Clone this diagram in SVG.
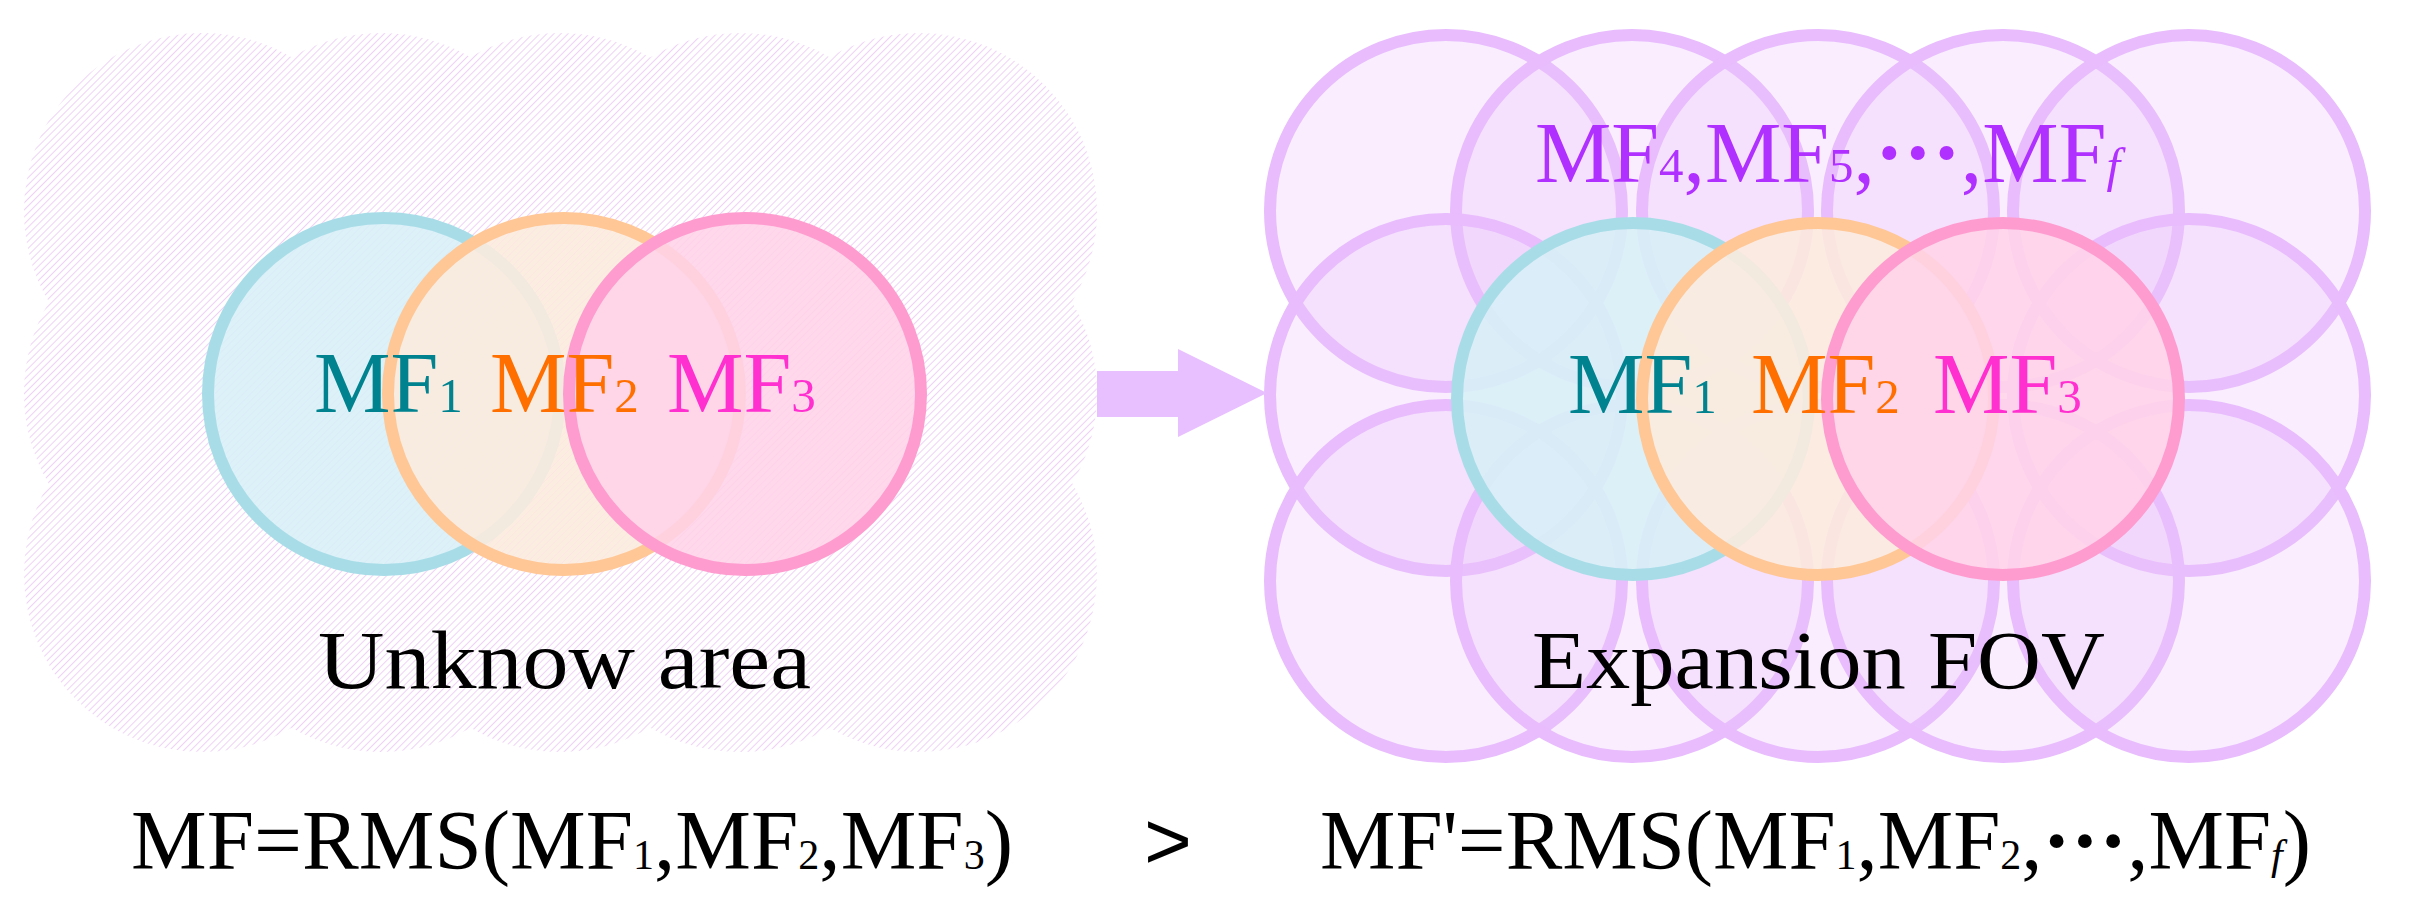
<svg xmlns="http://www.w3.org/2000/svg" width="2409" height="917" viewBox="0 0 2409 917">
  <defs>
    <pattern id="hatch" patternUnits="userSpaceOnUse" width="5" height="5" patternTransform="rotate(45)">
      <rect x="0" y="0" width="1" height="5" fill="#efd2f6"/>
    </pattern>
    <clipPath id="cloud">
      <circle cx="202" cy="211" r="178"/>
      <circle cx="381" cy="211" r="178"/>
      <circle cx="560" cy="211" r="178"/>
      <circle cx="740" cy="211" r="178"/>
      <circle cx="919" cy="211" r="178"/>
      <circle cx="202" cy="393" r="178"/>
      <circle cx="381" cy="393" r="178"/>
      <circle cx="560" cy="393" r="178"/>
      <circle cx="740" cy="393" r="178"/>
      <circle cx="919" cy="393" r="178"/>
      <circle cx="202" cy="574" r="178"/>
      <circle cx="381" cy="574" r="178"/>
      <circle cx="560" cy="574" r="178"/>
      <circle cx="740" cy="574" r="178"/>
      <circle cx="919" cy="574" r="178"/>
    </clipPath>
    <style>
      .txt { font-family: "Liberation Serif", "Times New Roman", serif; }
      .fov { fill: #eac4fb; fill-opacity: 0.3; stroke: #e8bcfd; stroke-width: 12; }
      .mf1 { fill: #d8eff7; fill-opacity: 0.9; stroke: #a8dde8; stroke-width: 12; }
      .mf2 { fill: #fcebdd; fill-opacity: 0.88; stroke: #ffc796; stroke-width: 12; }
      .mf3 { fill: #ffd3e8; fill-opacity: 0.88; stroke: #ff9ccf; stroke-width: 12; }
      .lab { font-size: 86px; }
      .sub { font-size: 49px; }
      .c1 { fill: #00838f; }
      .c2 { fill: #ff6f00; }
      .c3 { fill: #ff30cf; }
      .c4 { fill: #b030ff; }
    </style>
  </defs>
  <rect width="2409" height="917" fill="#ffffff"/>

  <g id="unknown-area">
    <rect x="0" y="0" width="1120" height="780" fill="url(#hatch)" clip-path="url(#cloud)"/>
  </g>

  <g id="left-mf1"><circle class="mf1" cx="384" cy="394" r="176"/></g>
  <g id="left-mf2"><circle class="mf2" cx="564" cy="394" r="176"/></g>
  <g id="left-mf3"><circle class="mf3" cx="745" cy="394" r="176"/></g>

  <g id="left-labels" class="txt lab">
    <text x="314" y="412" class="c1">MF<tspan class="sub">1</tspan></text>
    <text x="490" y="412" class="c2">MF<tspan class="sub">2</tspan></text>
    <text x="667" y="412" class="c3">MF<tspan class="sub">3</tspan></text>
    <text x="318" y="688" fill="#000" font-size="83" textLength="493" lengthAdjust="spacingAndGlyphs">Unknow area</text>
  </g>

  <g id="expansion-fov">
    <circle class="fov" cx="1446" cy="211" r="176"/>
    <circle class="fov" cx="1632" cy="211" r="176"/>
    <circle class="fov" cx="1818" cy="211" r="176"/>
    <circle class="fov" cx="2003" cy="211" r="176"/>
    <circle class="fov" cx="2189" cy="211" r="176"/>
    <circle class="fov" cx="1446" cy="395" r="176"/>
    <circle class="fov" cx="2189" cy="395" r="176"/>
    <circle class="fov" cx="1446" cy="581" r="176"/>
    <circle class="fov" cx="1632" cy="581" r="176"/>
    <circle class="fov" cx="1818" cy="581" r="176"/>
    <circle class="fov" cx="2003" cy="581" r="176"/>
    <circle class="fov" cx="2189" cy="581" r="176"/>
  </g>

  <g id="right-mf1"><circle class="mf1" cx="1633" cy="399" r="176"/></g>
  <g id="right-mf2"><circle class="mf2" cx="1818" cy="399" r="176"/></g>
  <g id="right-mf3"><circle class="mf3" cx="2003" cy="399" r="176"/></g>

  <g id="right-labels" class="txt lab">
    <text x="1535" y="182" class="c4" textLength="585" lengthAdjust="spacingAndGlyphs">MF<tspan class="sub">4</tspan>,MF<tspan class="sub">5</tspan>,<tspan font-weight="bold">···</tspan>,MF<tspan class="sub" font-style="italic">f</tspan></text>
    <text x="1568" y="413" class="c1">MF<tspan class="sub">1</tspan></text>
    <text x="1751" y="413" class="c2">MF<tspan class="sub">2</tspan></text>
    <text x="1933" y="413" class="c3">MF<tspan class="sub">3</tspan></text>
    <text x="1532" y="688" fill="#000" font-size="83" textLength="573" lengthAdjust="spacingAndGlyphs">Expansion FOV</text>
  </g>

  <g id="connectors">
    <polygon points="1097,371 1178,371 1178,349 1267,393 1178,437 1178,417 1097,417" fill="#e8bfff"/>
  </g>

  <g id="formulas" class="txt" fill="#000" font-size="85">
    <text x="131" y="869" textLength="882" lengthAdjust="spacingAndGlyphs">MF=RMS(MF<tspan font-size="42">1</tspan>,MF<tspan font-size="42">2</tspan>,MF<tspan font-size="42">3</tspan>)</text>
    <text x="1144" y="869" font-family="Liberation Sans, Arial, sans-serif" font-size="82">&gt;</text>
    <text x="1320" y="869" textLength="991" lengthAdjust="spacingAndGlyphs">MF'=RMS(MF<tspan font-size="42">1</tspan>,MF<tspan font-size="42">2</tspan>,<tspan font-weight="bold">···</tspan>,MF<tspan font-size="42" font-style="italic">f</tspan>)</text>
  </g>
</svg>
